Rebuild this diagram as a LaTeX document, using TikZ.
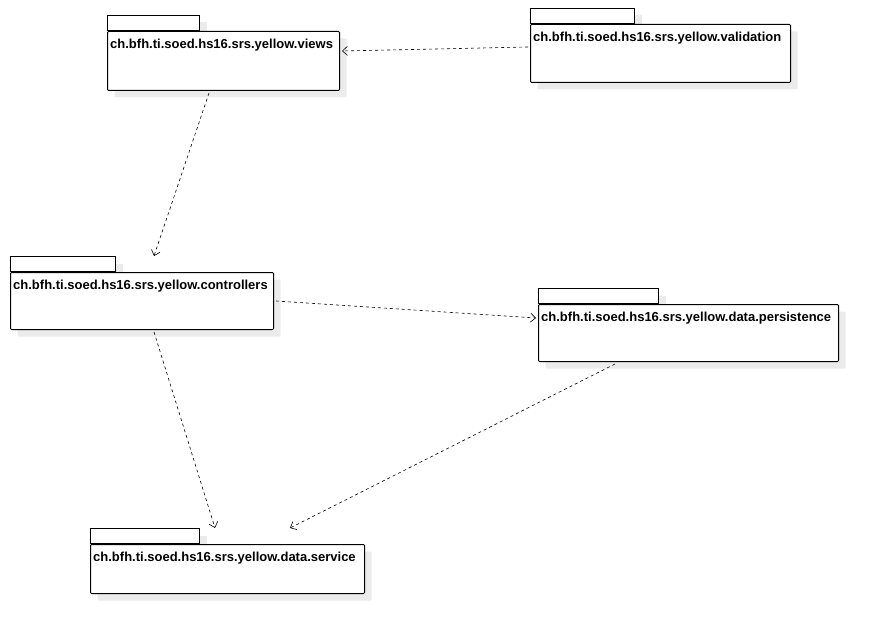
\documentclass[tikz,border=0pt]{standalone}
\usepackage{fontspec}
\setmainfont{Liberation Sans}
\usetikzlibrary{shadows,arrows.meta}
\begin{document}
\begin{tikzpicture}[x=1pt,y=-1pt,
    pkgshadow/.style={general shadow={fill=black!8, draw=none, shadow xshift=7pt, shadow yshift=-7pt}},
    pkgtab/.style={draw, fill=white, line width=1pt, anchor=south west, minimum height=15pt, inner sep=0pt, pkgshadow},
    pkgbody/.style={draw, fill=white, line width=1pt, anchor=north west, inner sep=0pt, rounded corners=1pt, pkgshadow},
    pkgname/.style={anchor=north west, inner xsep=3pt, inner ysep=8pt, font=\bfseries\fontsize{13}{15}\selectfont},
    dep/.style={dash pattern=on 3pt off 3pt, line width=0.6pt, -{Straight Barb[length=5pt,width=9pt,line width=0.6pt]}}]
    \useasboundingbox (0,0) rectangle (879,634);
    % tabs first, bodies on top
    \node[pkgtab, minimum width=92pt] (viewstab) at (107,31) {};
    \node[pkgtab, minimum width=104pt] (validationtab) at (530,24) {};
    \node[pkgtab, minimum width=105pt] (controllerstab) at (10,272) {};
    \node[pkgtab, minimum width=120pt] (persistencetab) at (538,304) {};
    \node[pkgtab, minimum width=109pt] (servicetab) at (90,544) {};
    \node[pkgbody, minimum width=232pt, minimum height=59pt] (views) at (107,31) {};
    \node[pkgbody, minimum width=260pt, minimum height=58pt] (validation) at (530,24) {};
    \node[pkgbody, minimum width=263pt, minimum height=57pt] (controllers) at (10,272) {};
    \node[pkgbody, minimum width=300pt, minimum height=57pt] (persistence) at (538,304) {};
    \node[pkgbody, minimum width=274pt, minimum height=49pt] (service) at (90,544) {};
    \node[pkgname] (viewsname) at (views.north west) {ch.bfh.ti.soed.hs16.srs.yellow.views};
    \node[pkgname] (validationname) at (validation.north west) {ch.bfh.ti.soed.hs16.srs.yellow.validation};
    \node[pkgname] (controllersname) at (controllers.north west) {ch.bfh.ti.soed.hs16.srs.yellow.controllers};
    \node[pkgname] (persistencename) at (persistence.north west) {ch.bfh.ti.soed.hs16.srs.yellow.data.persistence};
    \node[pkgname] (servicename) at (service.north west) {ch.bfh.ti.soed.hs16.srs.yellow.data.service};
    % dependencies
    \draw[dep] ([xshift=-2pt,yshift=-23pt]validation.north west) -- ([xshift=2pt,yshift=-20pt]views.north east);
    \draw[dep] ([xshift=102pt,yshift=-2pt]views.south west) -- ([xshift=144pt,yshift=16pt]controllers.north west);
    \draw[dep] ([xshift=2pt,yshift=-29pt]controllers.north east) -- ([xshift=-2pt,yshift=-14pt]persistence.north west);
    \draw[dep] ([xshift=144pt,yshift=-2pt]controllers.south west) -- ([xshift=125pt,yshift=16pt]service.north west);
    \draw[dep] ([xshift=77pt,yshift=-2pt]persistence.south west) -- ([xshift=200pt,yshift=16pt]service.north west);
\end{tikzpicture}
\end{document}
